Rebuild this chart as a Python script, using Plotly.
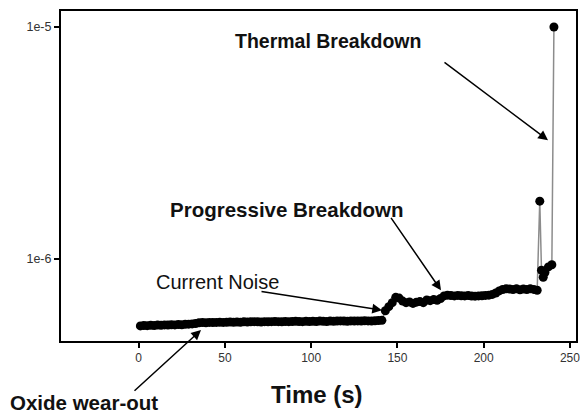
import plotly.graph_objects as go

# ---- data (current in units of 1e-7 A) ----
time_a = [1, 3, 5, 7, 9, 11, 13, 15, 17, 19, 21, 23, 25, 27, 29, 31, 33]
curr_a = [5.12, 5.14, 5.13, 5.15, 5.14, 5.16, 5.15, 5.17, 5.16, 5.18, 5.17, 5.19, 5.18, 5.20, 5.21, 5.22, 5.24]

time_b = [35, 37, 39, 41, 43, 45, 47, 49, 51,
          53, 55, 57, 59, 61, 63, 65, 67, 69,
          71, 73, 75, 77, 79, 81, 83, 85, 87,
          89, 91, 93, 95, 97, 99, 101, 103, 105,
          107, 109, 111, 113, 115, 117, 119, 121, 123,
          125, 127, 129, 131, 133, 135, 137, 139, 141]
curr_b = [5.28, 5.29, 5.28, 5.30, 5.29, 5.30, 5.31, 5.30, 5.31,
          5.32, 5.31, 5.32, 5.31, 5.33, 5.32, 5.33, 5.34, 5.33,
          5.32, 5.34, 5.33, 5.34, 5.35, 5.34, 5.33, 5.35, 5.34,
          5.35, 5.36, 5.35, 5.34, 5.36, 5.35, 5.36, 5.35, 5.37,
          5.36, 5.35, 5.37, 5.36, 5.37, 5.38, 5.37, 5.36, 5.38,
          5.37, 5.38, 5.37, 5.39, 5.38, 5.37, 5.39, 5.40, 5.41]

time_c = [143, 145, 147, 149, 151, 153, 155, 157, 159, 161,
          163, 165, 167, 169, 171, 173, 175, 177, 179, 181,
          183, 185, 187, 189, 191, 193, 195, 197, 199, 201,
          203, 205, 207, 209, 211, 213, 215, 217, 219, 221,
          223, 225, 227, 229, 231]
curr_c = [5.95, 6.20, 6.45, 6.80, 6.75, 6.55, 6.45, 6.50, 6.40, 6.48,
          6.52, 6.45, 6.62, 6.58, 6.65, 6.60, 6.72, 6.90, 6.95, 6.92,
          6.90, 6.93, 6.91, 6.90, 6.92, 6.89, 6.88, 6.90, 6.91, 6.93,
          6.95, 7.00, 7.10, 7.25, 7.35, 7.40, 7.38, 7.35, 7.40, 7.33,
          7.38, 7.35, 7.40, 7.36, 7.30]

time_d = [232.5, 233.5, 234.5, 235.5, 237.5, 239.5, 240.7]
curr_d = [17.7, 8.9, 8.3, 8.7, 9.2, 9.4, 100.0]

x_ticks = [0, 50, 100, 150, 200, 250]
y_ticks = [1e-6, 1e-5]
y_tick_labels = ["1e-6", "1e-5"]

times = time_a + time_b + time_c + time_d
current = [v * 1e-7 for v in curr_a + curr_b + curr_c + curr_d]

# ---- figure (page body has an 8px margin, so the figure is 8px smaller) ----
W, H = 580, 405
L, R, T, B = 53, 12, 1, 72
PL, PT, PW, PH = 61, 9, 515, 332   # plot box in window pixels


def px(xp):
    return (xp - PL) / PW


def py(yp):
    return (PT + PH - yp) / PH


fig = go.Figure()
fig.add_trace(go.Scatter(
    x=times, y=current, mode="lines+markers",
    line=dict(color="#8c8c8c", width=1.5),
    marker=dict(color="black", size=9, line=dict(width=0)),
    showlegend=False,
))

font_family = "Liberation Sans, Arial, sans-serif"

fig.update_layout(
    width=W, height=H,
    margin=dict(l=L, r=R, t=T, b=B),
    paper_bgcolor="white", plot_bgcolor="white",
    font=dict(family=font_family, color="#222"),
    xaxis=dict(range=[-45, 253.5], tickvals=x_ticks, ticks="outside", ticklen=5, tickwidth=2,
               tickcolor="black", showline=True, linecolor="black", linewidth=2, mirror=True,
               showgrid=False, zeroline=False, tickfont=dict(size=12, color="#333")),
    yaxis=dict(type="log", range=[-6.356, -4.931], tickvals=y_ticks, ticktext=y_tick_labels,
               ticks="outside", ticklen=5, tickwidth=2, tickcolor="black",
               showline=True, linecolor="black", linewidth=2, mirror=True,
               showgrid=False, zeroline=False, tickfont=dict(size=12.5, color="#333")),
)

texts = [
    ("<b>Thermal Breakdown</b>", 328, 39, 19.5),
    ("<b>Progressive Breakdown</b>", 287, 209, 20.5),
    ("Current Noise", 217, 282, 20),
    ("<b>Oxide wear-out</b>", 84, 403, 20.5),
    ("<b>Time (s)</b>", 317, 395, 24),
]
for t, xp, yp, fs in texts:
    fig.add_annotation(text=t, xref="paper", yref="paper", x=px(xp), y=py(yp),
                       xanchor="center", yanchor="middle", showarrow=False,
                       font=dict(size=fs, color="#111", family=font_family))

arrows = [
    ((443, 60), (548, 139)),
    ((390, 216), (441, 290)),
    ((260, 291), (382, 310)),
    ((133, 392), (201, 330)),
]
for (tx, ty), (hx, hy) in arrows:
    fig.add_annotation(text="", xref="paper", yref="paper", x=px(hx), y=py(hy),
                       ax=tx - hx, ay=ty - hy, showarrow=True, arrowhead=2,
                       arrowsize=1.3, arrowwidth=1.5, arrowcolor="black")

fig.write_html("out.html")
